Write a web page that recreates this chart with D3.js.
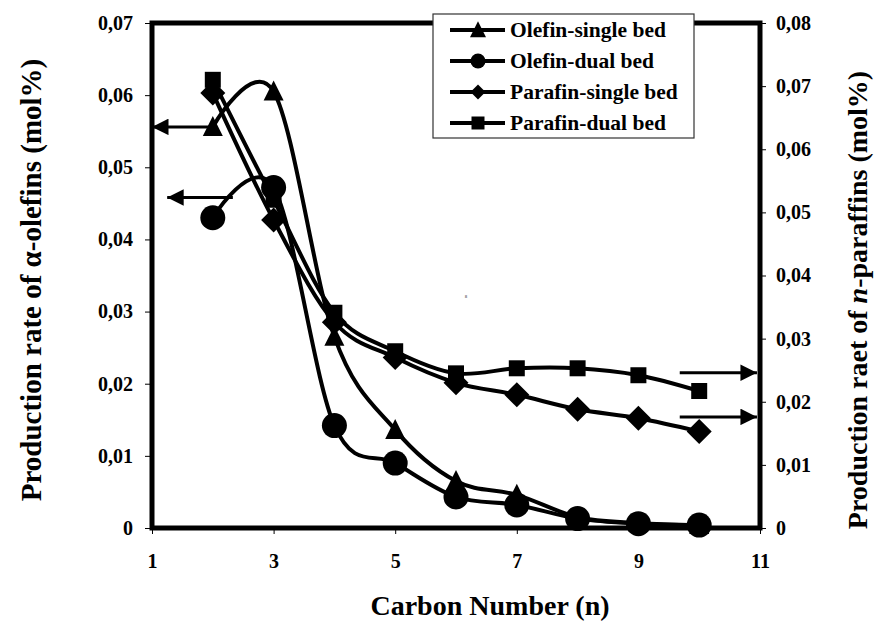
<!DOCTYPE html>
<html>
<head>
<meta charset="utf-8">
<script src="https://d3js.org/d3.v7.min.js"></script>
<style>
  body { margin: 0; background: #fff; }
  svg { display: block; }
  text { font-family: "Liberation Serif", "Times New Roman", serif; font-weight: bold; fill: #000; }
</style>
</head>
<body>
<div class="vis"></div>
<script>
// data
var carbon = [2, 3, 4, 5, 6, 7, 8, 9, 10];
var olefinSingle = [0.0556, 0.0605, 0.0265, 0.0136, 0.0065, 0.0046, 0.0015, 0.0007, 0.0004];
var olefinDual = [0.0430, 0.0472, 0.0142, 0.0090, 0.0043, 0.0032, 0.0013, 0.0006, 0.0004];
var parafinSingle = [0.0689, 0.0488, 0.0326, 0.0270, 0.0230, 0.0211, 0.0188, 0.0174, 0.0153];
var parafinDual = [0.0710, 0.0520, 0.0341, 0.0280, 0.0245, 0.0253, 0.0253, 0.0242, 0.0217];
var seriesNames = ["Olefin-single bed", "Olefin-dual bed", "Parafin-single bed", "Parafin-dual bed"];
var xTicks = [1, 3, 5, 7, 9, 11];
var leftTicks = [0, 0.01, 0.02, 0.03, 0.04, 0.05, 0.06, 0.07];
var rightTicks = [0, 0.01, 0.02, 0.03, 0.04, 0.05, 0.06, 0.07, 0.08];
// arrows pointing each group of curves to its axis: [x from, x to, value]
var leftArrows = [[2, 1, 0.0556], [2.33, 1.25, 0.0458]];
var rightArrows = [[9.68, 10.95, 0.0246], [9.68, 10.95, 0.0176]];

var width = 877, height = 623;
var margin = { top: 23, right: 117, bottom: 95, left: 152 };

var x = d3.scaleLinear().domain([1, 11]).range([margin.left, width - margin.right]);
var yL = d3.scaleLinear().domain([0, 0.07]).range([height - margin.bottom, margin.top]);
var yR = d3.scaleLinear().domain([0, 0.08]).range([height - margin.bottom, margin.top]);

var fmt = function (d) { return d === 0 ? "0" : d3.format(".2f")(d).replace(".", ","); };

var svg = d3.select(".vis").append("svg")
    .attr("width", width)
    .attr("height", height)
    .attr("viewBox", [0, 0, width, height]);

svg.append("defs").append("marker")
    .attr("id", "head")
    .attr("viewBox", "0 0 10 10")
    .attr("refX", 10).attr("refY", 5)
    .attr("markerWidth", 5.5).attr("markerHeight", 5.5)
    .attr("markerUnits", "strokeWidth")
    .attr("orient", "auto")
    .append("path").attr("d", "M0,0L10,5L0,10Z").attr("fill", "#000");

// axes
var xAxis = g => g
    .attr("transform", `translate(0,${yL(0)})`)
    .call(d3.axisBottom(x).tickValues(xTicks).tickSize(6).tickPadding(20).tickFormat(d3.format("d")))
    .call(g => g.select(".domain").remove());

var yAxisL = g => g
    .attr("transform", `translate(${x(1)},0)`)
    .call(d3.axisLeft(yL).tickValues(leftTicks).tickSize(7).tickPadding(12).tickFormat(fmt))
    .call(g => g.select(".domain").remove());

var yAxisR = g => g
    .attr("transform", `translate(${x(11)},0)`)
    .call(d3.axisRight(yR).tickValues(rightTicks).tickSize(6).tickPadding(10).tickFormat(fmt))
    .call(g => g.select(".domain").remove());

[xAxis, yAxisL, yAxisR].forEach(function (a) {
    svg.append("g").call(a)
        .call(g => g.selectAll(".tick line").attr("stroke", "#000").attr("stroke-width", 1))
        .call(g => g.selectAll(".tick text").attr("font-size", 20).attr("font-family", null).attr("fill", "#000"));
});

// plot frame
svg.append("rect")
    .attr("x", x(1)).attr("y", yL(0.07))
    .attr("width", x(11) - x(1)).attr("height", yL(0) - yL(0.07))
    .attr("fill", "none").attr("stroke", "#000").attr("stroke-width", 5);

// axis titles
svg.append("text")
    .attr("transform", "translate(41,280) rotate(-90)")
    .attr("text-anchor", "middle").attr("font-size", 29)
    .text("Production rate of α-olefins (mol%)");

var rt = svg.append("text")
    .attr("transform", "translate(867,300) rotate(-90)")
    .attr("text-anchor", "middle").attr("font-size", 28);
rt.append("tspan").text("Production raet of ");
rt.append("tspan").attr("font-style", "italic").text("n");
rt.append("tspan").text("-paraffins (mol%)");

svg.append("text")
    .attr("x", 490).attr("y", 615)
    .attr("text-anchor", "middle").attr("font-size", 28)
    .text("Carbon Number (n)");

// stray label in the plot
svg.append("text").attr("x", 466).attr("y", 298)
    .attr("text-anchor", "middle").attr("font-size", 5).attr("font-weight", "normal")
    .style("fill", "#777").text("8");

// marker shapes
function tri(s) { var w = s, h = s; return `M0,${-h * 0.55}L${w / 2},${h * 0.45}L${-w / 2},${h * 0.45}Z`; }
function circ(s) { var r = s / 2; return `M${r},0A${r},${r} 0 1,1 ${-r},0A${r},${r} 0 1,1 ${r},0Z`; }
function dia(s) { var r = s / 2; return `M0,${-r}L${r},0L0,${r}L${-r},0Z`; }
function sq(s) { var r = s / 2; return `M${-r},${-r}H${r}V${r}H${-r}Z`; }

var series = [
    { name: seriesNames[0], values: olefinSingle, y: yL, shape: tri, size: 20, lsize: 16 },
    { name: seriesNames[1], values: olefinDual, y: yL, shape: circ, size: 25, lsize: 15 },
    { name: seriesNames[2], values: parafinSingle, y: yR, shape: dia, size: 25, lsize: 15 },
    { name: seriesNames[3], values: parafinDual, y: yR, shape: sq, size: 16, lsize: 13 }
];

series.forEach(function (s) {
    var pts = carbon.map((c, i) => [c, s.values[i]]);
    var line = d3.line().x(d => x(d[0])).y(d => s.y(d[1])).curve(d3.curveCardinal.tension(0));
    svg.append("path").datum(pts)
        .attr("d", line).attr("fill", "none").attr("stroke", "#000").attr("stroke-width", 4);
    svg.append("g").selectAll("path").data(pts).join("path")
        .attr("transform", d => `translate(${x(d[0])},${s.y(d[1])})`)
        .attr("d", s.shape(s.size)).attr("fill", "#000");
});

// arrows
leftArrows.forEach(function (a) {
    svg.append("line")
        .attr("x1", x(a[0])).attr("x2", x(a[1]))
        .attr("y1", yL(a[2])).attr("y2", yL(a[2]))
        .attr("stroke", "#000").attr("stroke-width", 3).attr("marker-end", "url(#head)");
});
rightArrows.forEach(function (a) {
    svg.append("line")
        .attr("x1", x(a[0])).attr("x2", x(a[1]))
        .attr("y1", yR(a[2])).attr("y2", yR(a[2]))
        .attr("stroke", "#000").attr("stroke-width", 3).attr("marker-end", "url(#head)");
});

// legend
var lg = svg.append("g");
lg.append("rect")
    .attr("x", 433).attr("y", 14).attr("width", 261).attr("height", 124)
    .attr("fill", "#fff").attr("stroke", "#333").attr("stroke-width", 1.2);
series.forEach(function (s, i) {
    var cy = 30 + i * 31;
    lg.append("line").attr("x1", 450).attr("x2", 505).attr("y1", cy).attr("y2", cy)
        .attr("stroke", "#000").attr("stroke-width", 4);
    lg.append("path").attr("transform", `translate(478,${cy})`)
        .attr("d", s.shape(s.lsize)).attr("fill", "#000");
    lg.append("text").attr("x", 510).attr("y", cy + 7)
        .attr("font-size", 21.5).text(s.name);
});
</script>
</body>
</html>
